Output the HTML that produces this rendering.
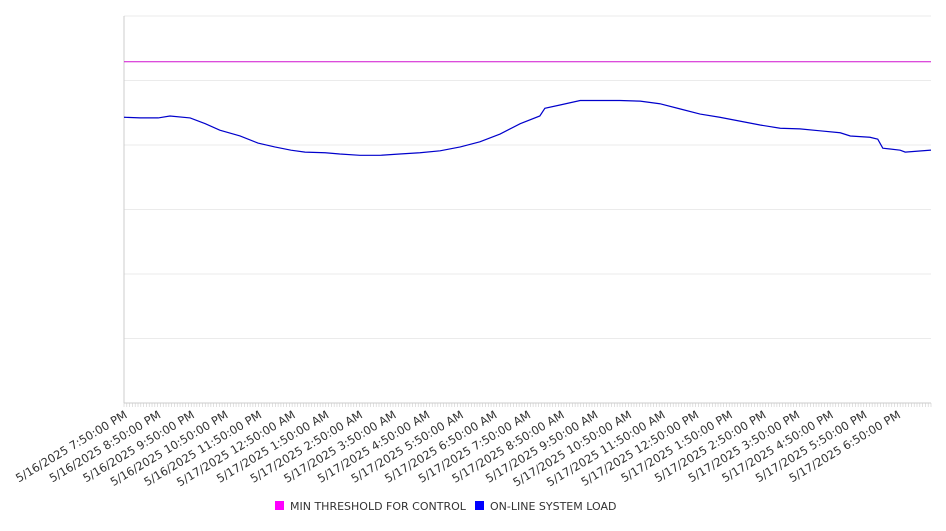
<!DOCTYPE html>
<html><head><meta charset="utf-8"><style>
body{margin:0;background:#fff;font-family:"Liberation Sans","DejaVu Sans",sans-serif}
svg text{font-family:"DejaVu Sans","Liberation Sans",sans-serif}
</style></head><body>
<svg id="chart" width="946" height="526" xmlns="http://www.w3.org/2000/svg">
<g id="grid"></g>
<g id="xaxis"></g>
<g id="series"></g>
<g>
 <rect x="275" y="501" width="9" height="9" fill="#ff00ff"/>
 <text x="290" y="510" font-size="11" fill="#333">MIN THRESHOLD FOR CONTROL</text>
 <rect x="475" y="501" width="9" height="9" fill="#0000ff"/>
 <text x="490" y="510" font-size="11" fill="#333">ON-LINE SYSTEM LOAD</text>
</g>
</svg>
<script>
const tickLabels=["5/16/2025 7:50:00 PM","5/16/2025 8:50:00 PM","5/16/2025 9:50:00 PM","5/16/2025 10:50:00 PM","5/16/2025 11:50:00 PM","5/17/2025 12:50:00 AM","5/17/2025 1:50:00 AM","5/17/2025 2:50:00 AM","5/17/2025 3:50:00 AM","5/17/2025 4:50:00 AM","5/17/2025 5:50:00 AM","5/17/2025 6:50:00 AM","5/17/2025 7:50:00 AM","5/17/2025 8:50:00 AM","5/17/2025 9:50:00 AM","5/17/2025 10:50:00 AM","5/17/2025 11:50:00 AM","5/17/2025 12:50:00 PM","5/17/2025 1:50:00 PM","5/17/2025 2:50:00 PM","5/17/2025 3:50:00 PM","5/17/2025 4:50:00 PM","5/17/2025 5:50:00 PM","5/17/2025 6:50:00 PM"];
const yTicks=[0,1,2,3,4,5,6];
const thresholdValue=5.29;
const loadMinutes=[0,29,61,82,118,145,171,207,239,269,298,323,359,385,421,457,492,528,564,600,635,671,707,742,751,778,814,849,885,921,956,992,1028,1063,1099,1135,1171,1206,1242,1278,1296,1331,1345,1354,1385,1394,1440];
const loadValues=[4.43,4.42,4.42,4.45,4.42,4.33,4.23,4.14,4.03,3.97,3.92,3.89,3.88,3.86,3.84,3.84,3.86,3.88,3.91,3.97,4.05,4.17,4.33,4.45,4.57,4.62,4.69,4.69,4.69,4.68,4.64,4.56,4.48,4.43,4.37,4.31,4.26,4.25,4.22,4.19,4.14,4.12,4.09,3.95,3.92,3.89,3.92];
const L=124,R=931,T=16,B=403,TOTAL=1440,YMAX=6;
const xs=m=>L+(R-L)*m/TOTAL;
const ys=v=>B-(B-T)*v/YMAX;
const NS="http://www.w3.org/2000/svg";
function mk(tag,parent,attrs){const e=document.createElementNS(NS,tag);for(const k in attrs)e.setAttribute(k,attrs[k]);parent.appendChild(e);return e;}
const grid=document.getElementById('grid'),xa=document.getElementById('xaxis'),se=document.getElementById('series');
yTicks.forEach(v=>{const l=mk('line',grid,{x1:L,x2:R,y1:ys(v),y2:ys(v),stroke:'#ebebeb','stroke-width':1});

});
const ax=mk('line',xa,{x1:L,x2:L,y1:T,y2:B,stroke:'#ccc','stroke-width':1});


const bx=mk('line',xa,{x1:L,x2:R,y1:B,y2:B,stroke:'#ccc','stroke-width':1});


for(let m=0;m<=TOTAL;m+=5){const t=mk('line',xa,{x1:xs(m),x2:xs(m),y1:B,y2:B+4,stroke:'#ccc','stroke-width':0.6});

}
tickLabels.forEach((s,i)=>{const x=xs(i*60)+4,y=B+14;const t=mk('text',xa,{x:x,y:y,'font-size':11.5,fill:'#333','text-anchor':'end',transform:`rotate(-31 ${x} ${y})`});t.textContent=s;

});
const th=mk('line',se,{x1:L,x2:R,y1:ys(thresholdValue),y2:ys(thresholdValue),stroke:'#d010d0','stroke-width':1});


const pl=mk('polyline',se,{points:loadMinutes.map((m,i)=>xs(m)+','+ys(loadValues[i])).join(' '),fill:'none',stroke:'#0000cc','stroke-width':1.2});


</script>
</body></html>
